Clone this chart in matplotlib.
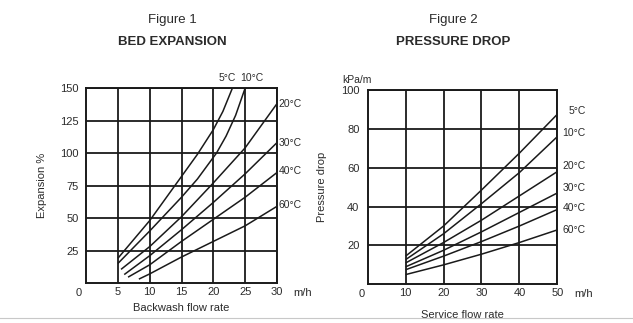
import matplotlib
matplotlib.use("Agg")
import matplotlib.pyplot as plt
from matplotlib.lines import Line2D

plt.rcParams.update({"font.family": ["Liberation Sans", "DejaVu Sans"], "font.size": 8})

TINTA = "#1a1a1a"
TEXTO = "#2b2b2b"

# Figura 1 - expansao do leito (vazao de retrolavagem m/h -> expansao %)
exp_temps = ["5°C", "10°C", "20°C", "30°C", "40°C", "60°C"]
exp_x = [
    [5, 10, 15, 17.5, 20, 21.5, 23],
    [5, 10, 15, 17.5, 20.5, 22, 23.5, 25],
    [5.5, 10, 15, 20, 25, 30],
    [6, 10, 15, 20, 25, 30],
    [6.6, 10, 15, 20, 25, 30],
    [8.3, 10, 15, 20, 25, 30],
]
exp_y = [
    [19, 48, 82, 99, 118, 132, 150],
    [15, 40, 66, 80, 100, 113, 129, 150],
    [10.5, 28, 51, 77, 104, 138],
    [6.5, 21, 41, 62, 84, 108],
    [4.5, 14, 32, 49, 66, 85],
    [3, 7, 20, 32, 44, 59],
]
exp_xticks = [5, 10, 15, 20, 25, 30]
exp_yticks = [25, 50, 75, 100, 125, 150]

# Figura 2 - perda de carga (vazao de servico m/h -> kPa/m)
pd_temps = ["5°C", "10°C", "20°C", "30°C", "40°C", "60°C"]
pd_x = [10, 20, 30, 40, 50]
pd_y = [
    [14.5, 30, 48.5, 67.5, 87.5],
    [12.7, 26, 41.5, 57.5, 76],
    [11, 21.5, 33, 45.5, 58],
    [9, 17.5, 27, 37, 47],
    [7.5, 14.5, 22, 30, 38.5],
    [5, 10, 15.5, 21.5, 28],
]
pd_xticks = [10, 20, 30, 40, 50]
pd_yticks = [20, 40, 60, 80, 100]


def _grade(ax):
    ax.grid(True, color=TINTA, linewidth=1.3)
    ax.set_axisbelow(True)
    for s in ax.spines.values():
        s.set_linewidth(1.4)
        s.set_color(TINTA)
    ax.tick_params(length=0, colors=TEXTO, labelsize=8)


fig = plt.figure(figsize=(6.33, 3.23), dpi=100)

# ---------------- Figura 1 ----------------
ax1 = fig.add_axes([0.1359, 0.1238, 0.3017, 0.6037])
for xs, ys in zip(exp_x, exp_y):
    ax1.plot(xs, ys, color=TINTA, linewidth=1.1, solid_capstyle="butt")
ax1.set_xlim(0, 30)
ax1.set_ylim(0, 150)
ax1.set_xticks(exp_xticks)
ax1.set_yticks(exp_yticks)
_grade(ax1)
ax1.tick_params(axis="x", pad=3)
ax1.tick_params(axis="y", pad=5)
ax1.annotate("0", xy=(0, 0), xytext=(-5, -7), textcoords="offset points",
             ha="center", va="center", color=TEXTO, fontsize=8)
ax1.annotate("m/h", xy=(30, 0), xytext=(12, -7), textcoords="offset points",
             ha="left", va="center", color=TEXTO, fontsize=8)
ax1.set_ylabel("Expansion %", color=TEXTO, fontsize=8, labelpad=10)
ax1.set_xlabel("Backwash flow rate", color=TEXTO, fontsize=8, labelpad=4)
# rotulos de temperatura
ax1.text(22.2, 154, exp_temps[0], ha="center", va="bottom", color=TEXTO, fontsize=7.5)
ax1.text(26.0, 154, exp_temps[1], ha="center", va="bottom", color=TEXTO, fontsize=7.5)
for t, yv in zip(exp_temps[2:], [138, 108, 86, 60]):
    ax1.text(30.3, yv, t, ha="left", va="center", color=TEXTO, fontsize=7.5)

# ---------------- Figura 2 ----------------
ax2 = fig.add_axes([0.5809, 0.1198, 0.2995, 0.6015])
for ys in pd_y:
    ax2.plot(pd_x, ys, color=TINTA, linewidth=1.1, solid_capstyle="butt")
ax2.set_xlim(0, 50)
ax2.set_ylim(0, 100)
ax2.set_xticks(pd_xticks)
ax2.set_yticks(pd_yticks)
_grade(ax2)
ax2.tick_params(axis="x", pad=3)
ax2.tick_params(axis="y", pad=6)
ax2.annotate("0", xy=(0, 0), xytext=(-4, -7), textcoords="offset points",
             ha="center", va="center", color=TEXTO, fontsize=8)
ax2.annotate("m/h", xy=(50, 0), xytext=(12, -7), textcoords="offset points",
             ha="left", va="center", color=TEXTO, fontsize=8)
ax2.annotate("kPa/m", xy=(0, 100), xytext=(-8, 7), textcoords="offset points",
             ha="center", va="center", color=TEXTO, fontsize=7.5)
ax2.set_ylabel("Pressure drop", color=TEXTO, fontsize=8, labelpad=10)
ax2.set_xlabel("Service flow rate", color=TEXTO, fontsize=8, labelpad=8)
for t, yv in zip(pd_temps, [89, 78, 61, 49.5, 39.5, 28]):
    ax2.text(57.5, yv, t, ha="right", va="center", color=TEXTO, fontsize=7.5)

# titulos
for xc, n, tit in [(0.273, "Figure 1", "BED EXPANSION"), (0.716, "Figure 2", "PRESSURE DROP")]:
    fig.text(xc, 1 - 20 / 323, n, ha="center", va="center", color=TEXTO, fontsize=9.5)
    fig.text(xc, 1 - 42 / 323, tit, ha="center", va="center", color=TEXTO,
             fontsize=9.5, fontweight="bold")

# borda inferior clara do scan
fig.add_artist(Line2D([0.0, 1.0], [5 / 323, 5 / 323], color="#c8c8c8", linewidth=0.8,
                      transform=fig.transFigure))

fig.savefig("out.png", dpi=100, facecolor="white")
